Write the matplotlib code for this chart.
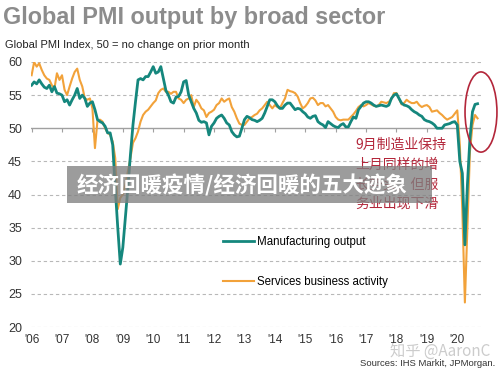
import numpy as np
import matplotlib
matplotlib.use("Agg")
import matplotlib.pyplot as plt
from matplotlib.patches import Ellipse, Rectangle

plt.rcParams['font.family'] = ['Liberation Sans', 'DejaVu Sans']

# ------------------------------------------------------------
# Data: monthly Global PMI, Jan 2006 .. Sep 2020
# ------------------------------------------------------------
manufacturing = [
    56.5, 57.0, 56.7, 57.3, 56.7, 56.2, 56.0, 56.5, 55.5, 56.3, 55.3, 55.2,   # 2006
    55.0, 54.0, 54.3, 53.5, 54.3, 55.0, 56.0, 54.5, 55.0, 54.5, 53.3, 53.8,   # 2007
    54.0, 52.8, 51.3, 51.0, 50.8, 50.3, 49.3, 49.3, 47.5, 41.0, 35.0, 29.5,   # 2008
    32.0, 36.5, 41.0, 46.0, 50.5, 54.0, 57.3, 57.5, 57.3, 57.8, 57.8, 58.5,   # 2009
    59.3, 58.3, 58.5, 59.3, 57.5, 55.7, 55.0, 54.0, 53.8, 54.7, 54.8, 55.5,   # 2010
    57.0, 57.2, 55.0, 54.0, 53.0, 52.3, 51.2, 50.9, 51.0, 50.8, 49.0, 50.3,   # 2011
    50.8, 51.5, 51.8, 52.0, 51.5, 50.8, 50.5, 49.5, 49.0, 48.7, 48.8, 50.0,   # 2012
    51.3, 51.8, 51.6, 51.3, 51.2, 51.0, 51.2, 51.5, 52.3, 53.3, 54.3, 54.3,   # 2013
    54.0, 53.4, 53.0, 53.0, 53.5, 53.8, 53.8, 53.3, 52.8, 53.0, 52.9, 52.5,   # 2014
    52.2, 51.7, 51.5, 51.8, 51.9, 51.0, 50.7, 50.5, 50.1, 51.0, 50.7, 50.4,   # 2015
    50.2, 50.1, 50.5, 50.7, 50.2, 50.2, 51.0, 51.7, 51.5, 52.8, 53.3, 53.8,   # 2016
    54.0, 54.0, 53.8, 53.5, 53.3, 53.4, 53.5, 53.4, 53.3, 53.5, 54.5, 55.0,   # 2017
    55.2, 54.5, 53.8, 53.5, 53.4, 53.2, 52.8, 52.5, 52.3, 52.0, 51.8, 51.3,   # 2018
    51.1, 51.0, 50.8, 50.5, 50.0, 50.0, 50.0, 50.5, 50.6, 50.7, 50.9, 51.0,   # 2019
    50.5, 45.0, 43.2, 32.4, 41.5, 48.5, 52.5, 53.6, 53.7,                     # 2020
]
services = [
    58.0, 60.0, 59.3, 59.8, 58.8, 58.0, 57.5, 57.3, 56.5, 56.0, 58.3, 57.3,   # 2006
    58.0, 55.8, 55.0, 56.3, 57.5, 58.5, 59.0, 57.3, 56.3, 54.5, 54.3, 54.5,   # 2007
    53.0, 47.0, 51.2, 51.3, 51.0, 50.0, 49.3, 49.0, 48.0, 45.5, 37.8, 39.5,   # 2008
    40.0, 41.5, 43.5, 45.5, 47.8, 48.5, 49.5, 51.0, 52.0, 52.5, 52.8, 53.3,   # 2009
    53.8, 54.2, 55.3, 55.8, 56.0, 55.5, 55.5, 55.2, 55.5, 55.5, 54.5, 54.3,   # 2010
    53.8, 54.3, 54.5, 55.0, 53.2, 54.3, 53.8, 53.0, 52.7, 51.7, 52.3, 52.5,   # 2011
    52.8, 53.5, 53.8, 54.5, 54.0, 54.3, 54.5, 53.2, 52.5, 51.5, 50.7, 50.5,   # 2012
    50.5, 51.0, 51.5, 51.7, 52.0, 52.2, 52.7, 53.0, 53.5, 54.0, 53.5, 53.0,   # 2013
    53.5, 53.2, 53.0, 53.8, 54.5, 55.8, 55.6, 55.5, 55.3, 54.8, 53.8, 53.0,   # 2014
    53.3, 53.8, 54.5, 54.6, 54.2, 53.5, 53.8, 53.8, 53.3, 53.5, 53.0, 52.5,   # 2015
    51.7, 51.3, 51.2, 51.3, 51.3, 51.3, 51.7, 52.1, 52.6, 53.2, 53.5, 53.3,   # 2016
    53.5, 53.8, 53.6, 53.4, 53.3, 53.5, 54.0, 53.9, 53.8, 54.0, 54.4, 55.3,   # 2017
    55.3, 54.5, 53.6, 53.8, 54.3, 54.0, 53.8, 53.8, 54.0, 53.5, 53.2, 53.4,   # 2018
    53.5, 53.2, 52.5, 52.6, 52.7, 52.3, 52.0, 51.6, 51.3, 51.5, 51.7, 52.2,   # 2019
    52.7, 47.5, 37.5, 23.7, 35.0, 46.5, 50.5, 52.0, 51.5,                     # 2020
]
years = list(range(2006, 2021))
year_labels = ["'%02d" % (y % 100) for y in years]
y_ticks = [20, 25, 30, 35, 40, 45, 50, 55, 60]

t = 2006 + np.arange(len(manufacturing)) / 12.0

TEAL = '#15877d'
ORANGE = '#f2a23a'
RED = '#b3263a'

fig = plt.figure(figsize=(5.0, 3.69), dpi=100)
ax = fig.add_axes([31 / 500, 1 - 327 / 369, 450 / 500, 265 / 369])

for v in y_ticks:
    if v == 50:
        ax.axhline(v, color='#a0a0a0', lw=1.0, zorder=1)
    else:
        ax.axhline(v, color='#b8b8b8', lw=0.8, ls=(0, (3, 2.5)), zorder=1)
ax.vlines(years, 49.4, 50, color='#a0a0a0', lw=0.8, zorder=1)

ax.plot(t, manufacturing, color=TEAL, lw=2.0, zorder=3, label='Manufacturing output')
ax.plot(t, services, color=ORANGE, lw=1.5, zorder=2, label='Services business activity')

ax.set_xlim(2005.98, 2020.78)
ax.set_ylim(20, 60)
ax.set_xticks(years)
ax.set_xticklabels(year_labels)
ax.set_yticks(y_ticks)
for s in ax.spines.values():
    s.set_visible(False)
ax.tick_params(axis='x', length=0, pad=5, labelsize=8.5, colors='#333333')
ax.tick_params(axis='y', length=0, pad=6.5, labelsize=9, colors='#333333')

ax.legend(loc='center left', bbox_to_anchor=(217 / 500, 1 - 262 / 369),
          bbox_transform=fig.transFigure, frameon=False, fontsize=8.3,
          borderpad=0, labelspacing=2.35, handlelength=2.7, handletextpad=0.3)

# red ellipse around the latest readings
ax.add_patch(Ellipse((2006 + (481 - 31.7) / 30.4, 52.45), 1.05, 12.1,
                     fill=False, ec=RED, lw=1.2, clip_on=False, zorder=5))

fig.text(0.006, 0.952, 'Global PMI output by broad sector', fontsize=16.8,
         fontweight='bold', color='#8c8c8c', va='center')
fig.text(0.01, 0.878, 'Global PMI Index, 50 = no change on prior month',
         fontsize=8, color='#222222', va='center')

cjk = ['Noto Sans CJK SC', 'DejaVu Sans']
fig.text(355 / 500, 1 - 138 / 369, '9月制造业保持\n上月同样的增\n长势头，但服\n务业出现下滑',
         fontsize=10, color=RED, va='top', ha='left', linespacing=1.5,
         family=cjk, zorder=4)

fig.patches.append(Rectangle((67 / 500, 1 - 203 / 369), 365 / 500, 37 / 369,
                             transform=fig.transFigure, fc='#808080', ec='none',
                             alpha=0.78, zorder=5))
fig.text(77 / 500, 1 - 185 / 369, '经济回暖疫情/经济回暖的五大迹象', fontsize=15.5,
         fontweight='bold', color='white', va='center', ha='left', family=cjk, zorder=6)

fig.text(440 / 500, 1 - 351 / 369, '知乎 @AaronC', fontsize=11, color='#cccccc',
         va='center', ha='center', family=cjk, zorder=4)
fig.text(495 / 500, 1 - 363 / 369, 'Sources: IHS Markit, JPMorgan.', fontsize=6.8,
         color='#333333', va='center', ha='right')

fig.savefig('out.png', dpi=100)
